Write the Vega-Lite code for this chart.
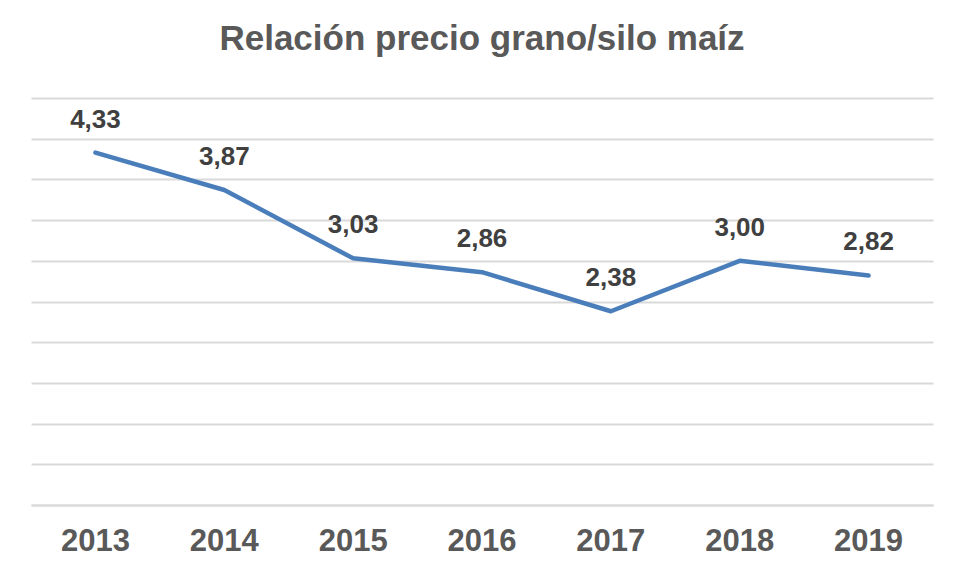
{
  "$schema": "https://vega.github.io/schema/vega-lite/v6.json",
  "width": 902,
  "height": 407,
  "autosize": {"type": "none"},
  "padding": {"left": 31, "top": 98, "right": 29, "bottom": 74},
  "background": "white",
  "title": {
    "text": "Relación precio grano/silo maíz",
    "font": "Liberation Sans",
    "fontSize": 35,
    "fontWeight": "bold",
    "color": "#595959",
    "anchor": "middle",
    "frame": "group",
    "baseline": "alphabetic",
    "offset": 13
  },
  "config": {"view": {"stroke": null}},
  "data": {
    "values": [
      {"year": "2013", "value": 4.33, "label": "4,33"},
      {"year": "2014", "value": 3.87, "label": "3,87"},
      {"year": "2015", "value": 3.03, "label": "3,03"},
      {"year": "2016", "value": 2.86, "label": "2,86"},
      {"year": "2017", "value": 2.38, "label": "2,38"},
      {"year": "2018", "value": 3.00, "label": "3,00"},
      {"year": "2019", "value": 2.82, "label": "2,82"}
    ]
  },
  "encoding": {
    "x": {
      "field": "year",
      "type": "ordinal",
      "scale": {"type": "band", "paddingInner": 0, "paddingOuter": 0},
      "axis": {
        "title": null,
        "labelAngle": 0,
        "labelFont": "Liberation Sans",
        "labelFontSize": 31,
        "labelFontWeight": "bold",
        "labelColor": "#595959",
        "labelPadding": 21,
        "ticks": false,
        "domain": true,
        "domainColor": "#d9d9d9",
        "domainWidth": 2
      }
    },
    "y": {
      "field": "value",
      "type": "quantitative",
      "scale": {"domain": [0, 5], "nice": false, "zero": true},
      "axis": {
        "title": null,
        "labels": false,
        "ticks": false,
        "domain": false,
        "values": [0, 0.5, 1, 1.5, 2, 2.5, 3, 3.5, 4, 4.5, 5],
        "grid": true,
        "gridColor": "#d9d9d9",
        "gridWidth": 2
      }
    }
  },
  "layer": [
    {
      "mark": {"type": "line", "color": "#4a7ebb", "strokeWidth": 4.5, "strokeCap": "round", "strokeJoin": "round"}
    },
    {
      "mark": {
        "type": "text",
        "font": "Liberation Sans",
        "fontSize": 26,
        "fontWeight": "bold",
        "color": "#404040",
        "baseline": "middle",
        "dy": -33
      },
      "encoding": {"text": {"field": "label"}}
    }
  ]
}
